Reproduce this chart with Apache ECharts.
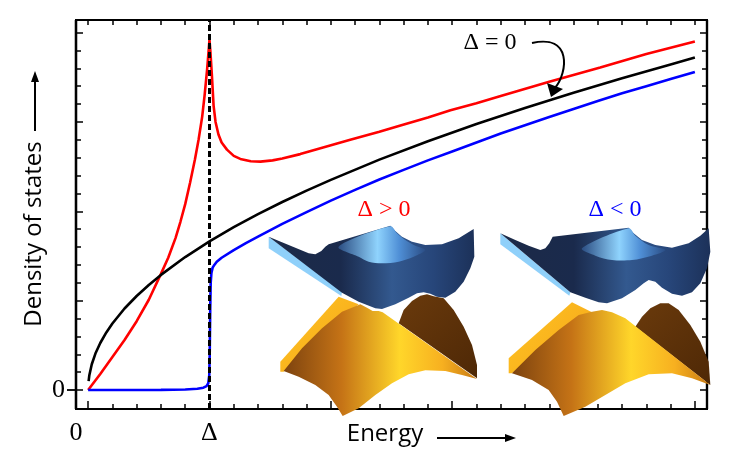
<!DOCTYPE html>
<html>
<head>
<meta charset="utf-8">
<script src="https://cdn.jsdelivr.net/npm/echarts@6/dist/echarts.min.js"></script>
</head>
<body style="margin:0">
<div id="main" style="width:747px;height:467px"></div>
<script>
// energy axis: one unit per small tick, the gap sits at 5
const gapE = 5;

const blackE   = [0.02, 0.05, 0.15, 0.3, 0.5, 0.75, 1, 1.5, 2, 2.5, 3, 4, 5, 6, 7, 8, 9, 10, 12, 14, 16, 18, 20, 22, 24, 25];
const blackDos = [0.5, 0.83, 1.44, 2.04, 2.63, 3.22, 3.72, 4.56, 5.26, 5.88, 6.44, 7.44, 8.32, 9.11, 9.84, 10.52, 11.16, 11.76, 12.89, 13.92, 14.88, 15.78, 16.64, 17.45, 18.22, 18.6];

const redE   = [0, 0.5, 1, 1.5, 2, 2.5, 3, 3.3, 3.6, 3.8, 4, 4.2, 4.4, 4.55, 4.7, 4.8, 4.9, 4.96, 5, 5.04, 5.1, 5.17, 5.25, 5.37, 5.5, 5.72, 6, 6.27, 6.7, 7.1, 7.6, 8, 8.74, 9.5, 10.8, 12, 12.87, 14, 14.93, 16, 17, 19, 21.1, 23, 25];
const redDos = [0, 0.9, 1.85, 2.8, 3.85, 5.05, 6.5, 7.4, 8.5, 9.4, 10.4, 11.6, 12.9, 14.0, 15.3, 16.5, 17.9, 18.9, 19.6, 18.9, 17.6, 15.9, 15.0, 14.3, 13.85, 13.45, 13.1, 12.93, 12.8, 12.78, 12.85, 12.95, 13.2, 13.5, 14.0, 14.45, 14.8, 15.25, 15.65, 16.05, 16.45, 17.25, 18.05, 18.8, 19.5];

const blueE   = [0, 1, 2, 3, 4, 4.5, 4.75, 4.88, 4.95, 4.99, 5.01, 5.03, 5.05, 5.08, 5.13, 5.2, 5.3, 5.5, 6, 6.5, 7, 8, 9, 10, 11, 12, 13, 14, 15, 16, 17, 18, 19, 20, 21, 22, 23, 24, 25];
const blueDos = [0, 0, 0, 0.01, 0.03, 0.07, 0.13, 0.22, 0.38, 0.8, 2.0, 4.5, 6.0, 6.55, 6.85, 7.0, 7.18, 7.4, 7.83, 8.22, 8.58, 9.3, 9.95, 10.6, 11.2, 11.78, 12.32, 12.85, 13.35, 13.85, 14.35, 14.82, 15.28, 15.73, 16.17, 16.6, 17.0, 17.4, 17.8];

const minorTicksX = [0,1,2,3,4,5,6,7,8,9,10,11,12,13,14,15,16,17,18,19,20,21,22,23,24,25];
const majorTicksX = [0, 5, 10, 15, 20, 25];
const minorTicksY = [0,1,2,3,4,5,6,7,8,9,10,11,12,13,14,15,16,17,18,19,20];
const majorTicksY = [0, 5, 10, 15, 20];
const xLabelValues = [-0.5, gapE];
const xLabelTexts = ['0', 'Δ'];

const pair = (xs, ys) => xs.map((x, i) => [x, ys[i]]);

const chart = echarts.init(document.getElementById('main'));

const serif = '"Liberation Serif", "DejaVu Serif", serif';
const sans = '"Open Sans", "Lato", sans-serif';
const X_MIN = -0.5, X_MAX = 25.5, Y_MIN = -1.063, Y_MAX = 20.705;

function xAx(position, tickVals, len, opts) {
    return Object.assign({
        type: 'value', position: position, min: X_MIN, max: X_MAX,
        axisLine: { show: true, onZero: false, lineStyle: { color: '#000', width: 2.2 } },
        axisTick: { show: true, inside: true, length: len, customValues: tickVals, lineStyle: { color: '#000', width: 1.5 } },
        axisLabel: { show: false },
        splitLine: { show: false }
    }, opts || {});
}
function yAx(position, tickVals, len, opts) {
    return Object.assign({
        type: 'value', position: position, min: Y_MIN, max: Y_MAX,
        axisLine: { show: true, onZero: false, lineStyle: { color: '#000', width: 2.2 } },
        axisTick: { show: true, inside: true, length: len, customValues: tickVals, lineStyle: { color: '#000', width: 1.5 } },
        axisLabel: { show: false },
        splitLine: { show: false }
    }, opts || {});
}

// inset drawing: outlines traced at 3x, offset to the inset corner
const P = (ox, oy, arr) => arr.map(p => [ox + p[0] / 3, oy + p[1] / 3]);
const LG = (x0, y0, x1, y1, stops) => new echarts.graphic.LinearGradient(x0, y0, x1, y1,
    stops.map(s => ({ offset: s[0], color: s[1] })));

function inset(ox, oy, s) {
    const els = [];
    els.push({ type: 'polygon', z: 100, shape: { points: P(ox, oy, s.strip) }, style: { fill: '#8fd0fa' } });
    els.push({ type: 'polygon', z: 101, shape: { points: P(ox, oy, s.blue) },
        style: { fill: LG(0, 0, 1, 0, [[0, '#1c2a48'], [0.35, '#1a2a4c'], [0.6, '#33598f'], [0.8, '#27467a'], [1, '#1c3159']]) } });
    els.push({ type: 'polygon', z: 102, shape: { points: P(ox, oy, s.patch), smooth: 0.3 },
        style: { fill: LG(0, 0, 1, 0, [[0, '#2b4d82'], [0.45, '#8fd3fd'], [0.7, '#4f8fd6'], [1, '#2b4e86']]) } });
    els.push({ type: 'polygon', z: 100, shape: { points: P(ox, oy, s.lobe) },
        style: { fill: LG(0, 0, 1, 1, [[0, '#6a3a0c'], [1, '#4e2806']]) } });
    els.push({ type: 'polygon', z: 101, shape: { points: P(ox, oy, s.side) },
        style: { fill: LG(0, 0, 1, 1, [[0, '#ffc522'], [1, '#f5a51a']]) } });
    els.push({ type: 'polygon', z: 102, shape: { points: P(ox, oy, s.front) },
        style: { fill: LG(0, 0, 1, 0, [[0, '#7d430f'], [0.3, '#c57316'], [0.6, '#ffd62a'], [0.82, '#f7b020'], [1, '#c87a14']]) } });
    return els;
}

const inset1 = {
    strip: [[20,65],[240,230],[238,243],[20,100]],
    blue: [[20,65],[60,82],[100,98],[140,115],[160,118],[178,108],[190,95],[200,88],[385,32],[400,48],[420,65],[450,80],[490,90],[540,88],[590,70],[635,42],[637,125],[625,160],[605,200],[580,230],[550,248],[525,245],[505,236],[485,232],[465,235],[440,248],[400,268],[360,282],[340,280],[290,260],[240,233]],
    patch: [[230,95],[385,34],[405,55],[430,75],[460,92],[490,105],[455,125],[410,140],[360,145],[320,140],[290,125]],
    lobe: [[410,325],[425,285],[450,258],[475,242],[495,238],[515,244],[545,250],[575,285],[605,335],[630,390],[645,450],[645,490]],
    side: [[55,440],[230,245],[290,268],[65,470],[55,470]],
    front: [[65,468],[120,400],[180,340],[240,290],[295,268],[315,278],[332,288],[350,288],[362,292],[645,492],[600,480],[550,468],[490,466],[440,478],[390,505],[340,540],[290,580],[242,603],[225,575],[200,540],[160,510],[110,485]]
};
const inset2 = {
    strip: [[25,55],[235,232],[232,242],[25,88]],
    blue: [[25,55],[70,75],[110,92],[145,105],[160,100],[172,85],[182,65],[410,38],[425,55],[450,75],[490,90],[540,98],[590,85],[625,62],[650,40],[655,110],[645,160],[625,205],[600,232],[570,242],[540,236],[510,218],[490,200],[470,195],[455,205],[430,225],[390,250],[345,265],[320,262],[280,248],[235,232]],
    patch: [[270,100],[410,40],[430,62],[470,90],[520,105],[480,122],[420,135],[360,135],[310,122]],
    lobe: [[430,335],[450,305],[475,280],[505,265],[530,265],[560,285],[595,330],[625,380],[650,440],[655,510]],
    side: [[50,430],[240,262],[300,292],[60,475],[50,475]],
    front: [[60,475],[130,405],[200,345],[260,300],[300,290],[330,285],[360,292],[400,310],[655,510],[600,490],[540,475],[470,478],[400,505],[340,540],[280,575],[215,603],[195,560],[170,525],[120,495]]
};

const graphics = [].concat(
    inset(262, 215, inset1),
    inset(492, 215, inset2),
    [
        { type: 'text', z: 110, style: { text: 'Δ > 0', x: 384, y: 210, fill: '#f00', font: '24px ' + serif, textAlign: 'center', textVerticalAlign: 'middle' } },
        { type: 'text', z: 110, style: { text: 'Δ < 0', x: 615, y: 210, fill: '#00f', font: '24px ' + serif, textAlign: 'center', textVerticalAlign: 'middle' } },
        { type: 'text', z: 110, style: { text: 'Δ = 0', x: 490, y: 43, fill: '#000', font: '24px ' + serif, textAlign: 'center', textVerticalAlign: 'middle' } },
        { type: 'bezierCurve', z: 110, shape: { x1: 532, y1: 43, cpx1: 572, cpy1: 34, cpx2: 568, cpy2: 72, x2: 555, y2: 88 },
          style: { stroke: '#000', lineWidth: 2, fill: null } },
        { type: 'polygon', z: 110, shape: { points: [[551, 97], [547, 83], [563, 89]] }, style: { fill: '#000' } },
        // axis titles
        { type: 'text', z: 110, x: 34, y: 234, rotation: Math.PI / 2,
          style: { text: 'Density of states', x: 0, y: 0, fill: '#000', font: '24px ' + sans, textAlign: 'center', textVerticalAlign: 'middle' } },
        { type: 'line', z: 110, shape: { x1: 35, y1: 131, x2: 35, y2: 80 }, style: { stroke: '#000', lineWidth: 2 } },
        { type: 'polygon', z: 110, shape: { points: [[35, 71], [31, 82], [39, 82]] }, style: { fill: '#000' } },
        { type: 'text', z: 110, style: { text: 'Energy', x: 385, y: 434, fill: '#000', font: '24px ' + sans, textAlign: 'center', textVerticalAlign: 'middle' } },
        { type: 'line', z: 110, shape: { x1: 437, y1: 438, x2: 507, y2: 438 }, style: { stroke: '#000', lineWidth: 2 } },
        { type: 'polygon', z: 110, shape: { points: [[516, 438], [505, 434], [505, 442]] }, style: { fill: '#000' } }
    ]
);

const option = {
    animation: false,
    backgroundColor: '#fff',
    grid: { left: 76, right: 40, top: 20, bottom: 58, containLabel: false },
    xAxis: [
        xAx('bottom', minorTicksX, 5, {
            axisLabel: {
                show: true, customValues: xLabelValues, margin: 11,
                formatter: v => xLabelTexts[xLabelValues.indexOf(v)],
                color: '#000', fontFamily: serif, fontSize: 26
            }
        }),
        xAx('bottom', majorTicksX, 8),
        xAx('top', minorTicksX, 5)
    ],
    yAxis: [
        yAx('left', minorTicksY, 5),
        yAx('left', majorTicksY, 7),
        yAx('left', [0], 8, {
            axisTick: { show: true, inside: false, length: 9, customValues: [0], lineStyle: { color: '#000', width: 1.8 } },
            axisLabel: { show: true, customValues: [0], margin: 11, formatter: () => '0', color: '#000', fontFamily: serif, fontSize: 26 }
        }),
        yAx('right', minorTicksY, 5),
        yAx('right', majorTicksY, 7)
    ],
    graphic: graphics,
    series: [
        {
            type: 'line', data: [], silent: true, z: 1,
            markLine: {
                silent: true, symbol: 'none', label: { show: false },
                lineStyle: { color: '#000', type: [6, 3], width: 3 },
                data: [{ xAxis: gapE }]
            }
        },
        { name: 'Δ > 0', type: 'line', data: pair(redE, redDos), showSymbol: false, z: 3,
          lineStyle: { color: '#f00', width: 2.6 } },
        { name: 'Δ = 0', type: 'line', data: pair(blackE, blackDos), showSymbol: false, z: 3,
          lineStyle: { color: '#000', width: 2.6 } },
        { name: 'Δ < 0', type: 'line', data: pair(blueE, blueDos), showSymbol: false, z: 3,
          lineStyle: { color: '#00f', width: 2.6 } }
    ]
};
chart.setOption(option);
</script>
</body>
</html>
